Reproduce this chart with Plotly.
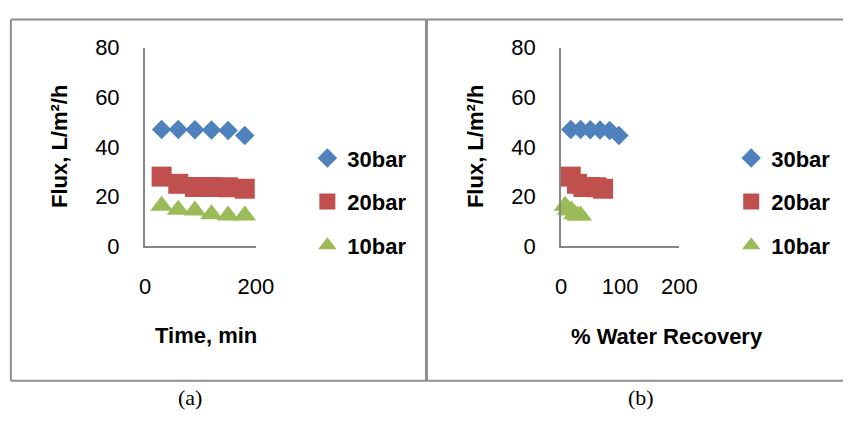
import plotly.graph_objects as go

# ---- data ----
time_min = [30, 60, 90, 120, 150, 180]
flux_30bar = [47.0, 47.0, 46.9, 46.8, 46.6, 44.6]
flux_20bar = [28.0, 25.1, 23.8, 23.8, 23.7, 23.1]
flux_10bar = [16.2, 14.6, 14.3, 12.8, 12.3, 12.3]

recovery_30bar = [16.4, 32.9, 49.3, 65.8, 82.2, 97.8]
recovery_20bar = [16.4, 26.8, 37.8, 48.8, 59.7, 71.0]
recovery_10bar = [6.6, 12.0, 17.6, 23.0, 28.5, 33.0]

series_names = ["30bar", "20bar", "10bar"]
y_ticks = [0, 20, 40, 60, 80]
x_ticks_a = [0, 200]
x_ticks_b = [0, 100, 200]

# ---- styling ----
W, H = 861, 423
colors = ["#4F81BD", "#C0504D", "#9BBB59"]
symbols = ["diamond", "square", "triangle-up"]
sizes = [15, 20, 20]
axis_gray = "#868686"
frame_gray = "#8e8e8e"
FONT = "Liberation Sans"

def px_x(p):
    return p / W

def px_y(p):
    return 1 - p / H

fig = go.Figure()

flux_all = [flux_30bar, flux_20bar, flux_10bar]
for i, name in enumerate(series_names):
    fig.add_trace(go.Scatter(
        x=time_min, y=flux_all[i], mode="markers", name=name,
        marker=dict(symbol=symbols[i], size=sizes[i], color=colors[i], line=dict(width=0)),
        xaxis="x", yaxis="y", legend="legend", legendgroup="a" + name,
        cliponaxis=False,
    ))
rec_all = [recovery_30bar, recovery_20bar, recovery_10bar]
for i, name in enumerate(series_names):
    fig.add_trace(go.Scatter(
        x=rec_all[i], y=flux_all[i], mode="markers", name=name,
        marker=dict(symbol=symbols[i], size=sizes[i], color=colors[i], line=dict(width=0)),
        xaxis="x2", yaxis="y2", legend="legend2", legendgroup="b" + name,
        cliponaxis=False,
    ))

ydom = [px_y(248.7), px_y(38)]
common_axis = dict(showline=True, linecolor=axis_gray, linewidth=2, showgrid=False,
                   zeroline=False, ticks="", tickfont=dict(family=FONT, size=22, color="#000"),
                   fixedrange=True)

fig.update_layout(
    width=W, height=H,
    margin=dict(l=0, r=0, t=0, b=0),
    paper_bgcolor="white", plot_bgcolor="white",
    xaxis=dict(domain=[px_x(143), px_x(257)], range=[0, 200], tickvals=x_ticks_a,
               anchor="y", ticklabelstandoff=20, **common_axis),
    yaxis=dict(domain=ydom, range=[0, 80], tickvals=y_ticks, anchor="x",
               ticklabelstandoff=19, **common_axis),
    xaxis2=dict(domain=[px_x(571), px_x(692.7)], range=[0, 200], tickvals=x_ticks_b,
                anchor="y2", ticklabelstandoff=20, **common_axis),
    yaxis2=dict(domain=ydom, range=[0, 80], tickvals=y_ticks, anchor="x2",
                ticklabelstandoff=19, **common_axis),
    legend=dict(x=px_x(310), y=px_y(133), xanchor="left", yanchor="top",
                font=dict(family=FONT, size=22, color="#000", weight="bold"),
                tracegroupgap=12, bgcolor="rgba(0,0,0,0)", itemclick=False),
    legend2=dict(x=px_x(746), y=px_y(133), xanchor="left", yanchor="top",
                 font=dict(family=FONT, size=22, color="#000", weight="bold"),
                 tracegroupgap=12, bgcolor="rgba(0,0,0,0)", itemclick=False),
    showlegend=True,
)

# axis titles
title_font = dict(family=FONT, size=22, color="#000", weight="bold")
annos = [
    dict(text="Time, min", x=px_x(206), y=px_y(344)),
    dict(text="% Water Recovery", x=px_x(680), y=px_y(345)),
    dict(text="Flux, L/m²/h", x=px_x(55), y=px_y(143), textangle=-90),
    dict(text="Flux, L/m²/h", x=px_x(483), y=px_y(143), textangle=-90),
]
for a in annos:
    fig.add_annotation(xref="paper", yref="paper", xanchor="center", yanchor="middle",
                       showarrow=False, font=title_font, **a)

cap_font = dict(family="Liberation Serif", size=22, color="#000")
fig.add_annotation(text="(a)", x=px_x(189), y=px_y(410), xref="paper", yref="paper",
                   showarrow=False, font=cap_font, xanchor="center", yanchor="middle")
fig.add_annotation(text="(b)", x=px_x(653), y=px_y(410), xref="paper", yref="paper",
                   showarrow=False, font=cap_font, xanchor="center", yanchor="middle")

# frame
frame = [
    (5, 8, W, 8, 2), (5, 8, 5, 392, 2), (5, 392, W, 392, 2), (432.5, 8, 432.5, 392, 3),
]
for x0, y0, x1, y1, w in frame:
    fig.add_shape(type="line", xref="paper", yref="paper",
                  x0=px_x(x0), y0=px_y(y0), x1=px_x(x1), y1=px_y(y1),
                  line=dict(color=frame_gray, width=w))

fig.write_html("out.html")
